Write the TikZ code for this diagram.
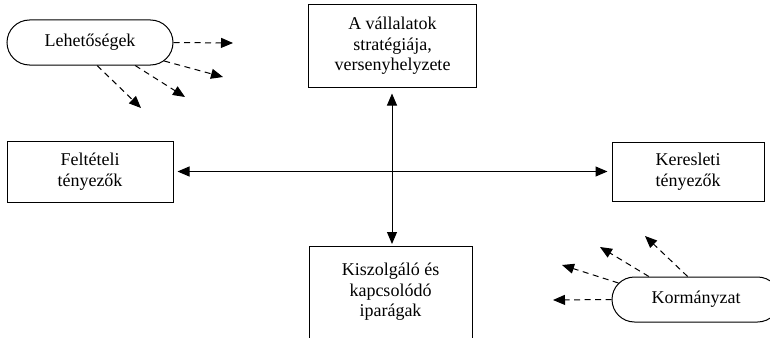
\documentclass[tikz,border=0pt]{standalone}
\usepackage{fontspec}
\setmainfont{Liberation Serif}
\usetikzlibrary{arrows.meta,shapes.misc}

\tikzset{
  box/.style={draw, line width=1pt, align=center, inner sep=0pt,
    font=\fontsize{18}{20.5}\selectfont},
  capsule/.style={draw, line width=1pt, rounded rectangle, inner sep=0pt,
    minimum height=45, font=\fontsize{18}{20.5}\selectfont},
  label text/.style={align=center, inner sep=0pt,
    font=\fontsize{18}{20.5}\selectfont},
  link/.style={line width=1pt, {Triangle[length=12,width=10]}-{Triangle[length=12,width=10]},
    shorten <=4pt, shorten >=4pt},
  influence/.style={line width=1pt, dash pattern=on 6pt off 4.5pt,
    -{Triangle[length=12,width=10]}}
}

\begin{document}
\begin{tikzpicture}[x=1pt,y=-1pt]
\useasboundingbox (0,0) rectangle (770,337);
\clip (0,0) rectangle (770,337);

% the four factors
\node[box, minimum width=168, minimum height=82] (strat) at (392.5,46)
  {A vállalatok\\stratégiája,\\versenyhelyzete};
\node[box, minimum width=166, minimum height=61] (felt) at (90,171.5)
  {Feltételi\\tényezők};
\node[box, minimum width=152, minimum height=59] (ker) at (688,171.5)
  {Keresleti\\tényezők};
\node[box, minimum width=163, minimum height=110, anchor=north] (ipar) at (390.5,246) {};
\node[label text] (ipartext) at (390.5,292) {Kiszolgáló és\\kapcsolódó\\iparágak};

% the two outside influences
\node[capsule, minimum width=166] (lehet) at (90,42.5) {Lehetőségek};
\node[capsule, minimum width=168] (korm) at (696,299.5) {Kormányzat};

% links between the factors
\draw[link] (felt.east) -- (ker.west);
\draw[link, shorten <=6pt, shorten >=2pt] (strat.south -| 392,0) -- (ipar.north -| 392,0);

% chance
\coordinate (l1) at (233,43);
\coordinate (l2) at (223,77);
\coordinate (l3) at (185,97);
\coordinate (l4) at (141,108);
\draw[influence] (lehet.east) -- (l1);
\draw[influence] (lehet.-14) -- (l2);
\draw[influence] (lehet.-27) -- (l3);
\draw[influence] (lehet.-73) -- (l4);

% government
\coordinate (k1) at (553,300);
\coordinate (k2) at (562,265);
\coordinate (k3) at (600,247);
\coordinate (k4) at (645,236);
\draw[influence] (korm.west) -- (k1);
\draw[influence] (korm.168) -- (k2);
\draw[influence] (korm.154) -- (k3);
\draw[influence] (korm.110) -- (k4);
\end{tikzpicture}
\end{document}
